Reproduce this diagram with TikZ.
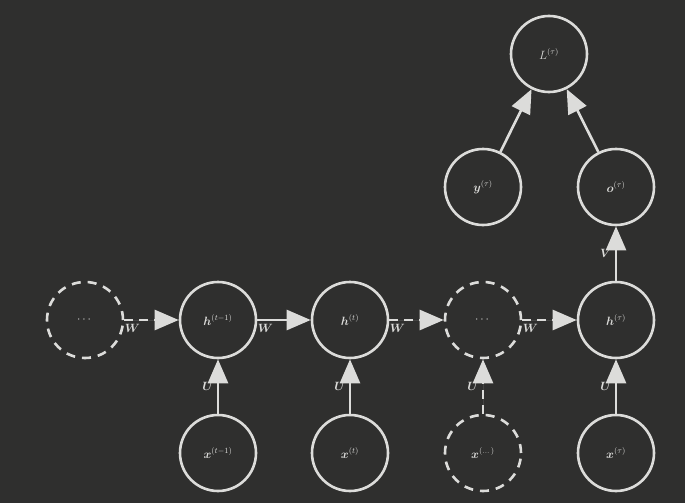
\documentclass[tikz,border=0pt]{standalone}
\usepackage{amsmath,bm}
\usetikzlibrary{arrows.meta}
\definecolor{bg}{HTML}{2F2F2E}
\definecolor{fg}{HTML}{DCDCDA}
\begin{document}
\begin{tikzpicture}[x=1pt,y=-1pt,
  nd/.style={circle,draw=fg,line width=2.6pt,minimum size=76pt,inner sep=0pt,text=fg,font=\large},
  dnd/.style={nd,dash pattern=on 9pt off 7pt},
  ar/.style={draw=fg,line width=2.6pt,-{Triangle[width=20pt,length=24pt]},fill=fg},
  dar/.style={ar,dash pattern=on 9pt off 6pt},
  lab/.style={text=fg,font=\large}]
\fill[bg] (0,0) rectangle (685,503);
\useasboundingbox (0,0) rectangle (685,503);
\node[dnd] (d0) at (85,320) {$\cdots$};
\node[nd] (h1) at (218,320) {$\bm{h}^{(t-1)}$};
\node[nd] (h2) at (350,320) {$\bm{h}^{(t)}$};
\node[dnd] (d1) at (483,320) {$\cdots$};
\node[nd] (h3) at (616,320) {$\bm{h}^{(\tau)}$};
\node[nd] (x1) at (218,453) {$\bm{x}^{(t-1)}$};
\node[nd] (x2) at (350,453) {$\bm{x}^{(t)}$};
\node[dnd] (x3) at (483,453) {$\bm{x}^{(\dots)}$};
\node[nd] (x4) at (616,453) {$\bm{x}^{(\tau)}$};
\node[nd] (y) at (483,187) {$\bm{y}^{(\tau)}$};
\node[nd] (o) at (616,187) {$\bm{o}^{(\tau)}$};
\node[nd] (L) at (549,54) {$L^{(\tau)}$};
\draw[dar] (d0) -- node[lab,pos=0.15,below] {$\bm{W}$} (h1);
\draw[ar] (h1) -- node[lab,pos=0.15,below] {$\bm{W}$} (h2);
\draw[dar] (h2) -- node[lab,pos=0.15,below] {$\bm{W}$} (d1);
\draw[dar] (d1) -- node[lab,pos=0.15,below] {$\bm{W}$} (h3);
\draw[ar] (x1) -- node[lab,left] {$\bm{U}$} (h1);
\draw[ar] (x2) -- node[lab,left] {$\bm{U}$} (h2);
\draw[dar] (x3) -- node[lab,left] {$\bm{U}$} (d1);
\draw[ar] (x4) -- node[lab,left] {$\bm{U}$} (h3);
\draw[ar] (h3) -- node[lab,left] {$\bm{V}$} (o);
\draw[ar] (y) -- (L);
\draw[ar] (o) -- (L);
\end{tikzpicture}
\end{document}
